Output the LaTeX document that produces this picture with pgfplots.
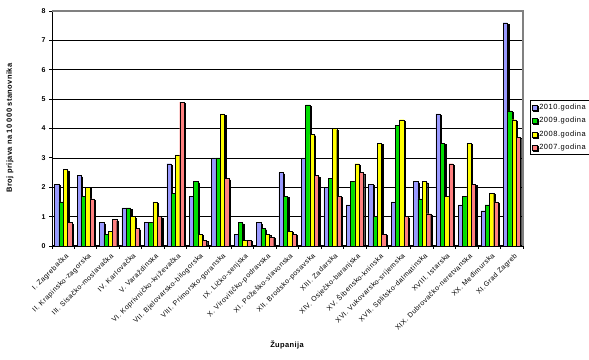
\documentclass[border=0pt]{standalone}
\usepackage{fontspec}
\setmainfont{Liberation Sans}[LetterSpace=7]
\newfontfamily\titlefont{Liberation Sans}[LetterSpace=5]
\usepackage{pgfplots}
\usepackage{pgfplotstable}
\pgfplotsset{compat=1.18}
\definecolor{cA}{HTML}{9999FF}
\definecolor{cB}{HTML}{00DD00}
\definecolor{cC}{HTML}{FFFF00}
\definecolor{cD}{HTML}{FF8080}
\pgfplotstableread{
x  a    b    c    d
0  2.1  1.5  2.6  0.8
1  2.4  1.7  2.0  1.6
2  0.8  0.4  0.5  0.9
3  1.3  1.3  1.0  0.6
4  0.8  0.8  1.5  1.0
5  2.8  1.8  3.1  4.9
6  1.7  2.2  0.4  0.2
7  3.0  3.0  4.5  2.3
8  0.4  0.8  0.2  0.2
9  0.8  0.6  0.4  0.3
10 2.5  1.7  0.5  0.4
11 3.0  4.8  3.8  2.4
12 2.0  2.3  4.0  1.7
13 1.4  2.2  2.8  2.5
14 2.1  1.0  3.5  0.4
15 1.5  4.1  4.3  1.0
16 2.2  1.6  2.2  1.1
17 4.5  3.5  1.7  2.8
18 1.4  1.7  3.5  2.1
19 1.2  1.4  1.8  1.5
20 7.6  4.6  4.3  3.7
}\data
\tikzset{shad/.style={draw=black, line width=0.3pt, preaction={fill=black, draw=black, transform canvas={xshift=1.3pt, yshift=-1.3pt}}}}
\begin{document}
\begin{tikzpicture}[x=1pt,y=1pt]
\begin{axis}[
  at={(52pt,113pt)}, anchor=south west,
  scale only axis, width=471pt, height=235pt,
  xmin=-0.5, xmax=20.5, ymin=0, ymax=8,
  ybar=0pt, bar width=4.3pt,
  axis x line*=bottom, axis y line*=left,
  axis line style={black, line width=1pt},
  xtick={0,...,20},
  xticklabels={I. Zagrebačka, II. Krapinsko-zagorska, III. Sisačko-moslavačka, IV. Karlovačka, V. Varaždinska, VI. Koprivničko-križevačka, VII. Bjelovarsko-bilogorska, VIII. Primorsko-goranska, IX. Ličko-senjska, X. Virovitičko-podravska, XI. Požeško-slavonska, XII. Brodsko-posavska, XIII. Zadarska, XIV. Osječko-baranjska, XV. Šibensko-kninska, XVI. Vukovarsko-srijemska, XVII. Splitsko-dalmatinska, XVIII. Istarska, XIX. Dubrovačko-neretvanska, XX. Međimurska, XI.Grad Zagreb},
  x tick label style={rotate=45, anchor=north east, font=\fontsize{7}{8}\selectfont, inner sep=1pt, yshift=-3pt},
  major x tick style={draw=none},
  minor xtick={-0.5,0.5,...,20.5},
  minor x tick style={black, line width=0.8pt},
  tick align=outside,
  major tick length=3pt, minor tick length=3pt,
  ytick={0,...,8},
  y tick style={black, line width=0.8pt},
  y tick label style={font=\fontsize{7}{8}\selectfont\bfseries},
  /pgf/number format/assume math mode=true,
  ymajorgrids,
  grid style={black, line width=0.6pt},
  legend style={at={(1.015,0.621)}, anchor=north west, draw=black, line width=0.6pt,
    font=\fontsize{7.5}{8}\selectfont, inner sep=1.5pt, row sep=2.5pt,
    /tikz/every even column/.append style={column sep=0pt}},
  legend cell align=left,
  after end axis/.code={\draw[gray, line width=1.5pt] (rel axis cs:0,1) -- (rel axis cs:1,1) -- (rel axis cs:1,0);},
]
\addplot[fill=cA, shad, legend image code/.code={\draw[fill=cA, draw=black, line width=0.4pt] (0pt,-2.5pt) rectangle (5pt,2.5pt);}] table[x=x, y=a] {\data};
\addlegendentry{2010.godina}
\addplot[fill=cB, shad, legend image code/.code={\draw[fill=cB, draw=black, line width=0.4pt] (0pt,-2.5pt) rectangle (5pt,2.5pt);}] table[x=x, y=b] {\data};
\addlegendentry{2009.godina}
\addplot[fill=cC, shad, legend image code/.code={\draw[fill=cC, draw=black, line width=0.4pt] (0pt,-2.5pt) rectangle (5pt,2.5pt);}] table[x=x, y=c] {\data};
\addlegendentry{2008.godina}
\addplot[fill=cD, shad, legend image code/.code={\draw[fill=cD, draw=black, line width=0.4pt] (0pt,-2.5pt) rectangle (5pt,2.5pt);}] table[x=x, y=d] {\data};
\addlegendentry{2007.godina}
\end{axis}
\node[rotate=90, font=\fontsize{7.5}{8}\selectfont\titlefont\bfseries] at (10,231) {Broj prijava na 10 000 stanovnika};
\node[font=\fontsize{7.5}{8}\selectfont\titlefont\bfseries] at (287,14) {Županija};
\pgfresetboundingbox
\useasboundingbox (0,0) rectangle (589,359);
\end{tikzpicture}
\end{document}
